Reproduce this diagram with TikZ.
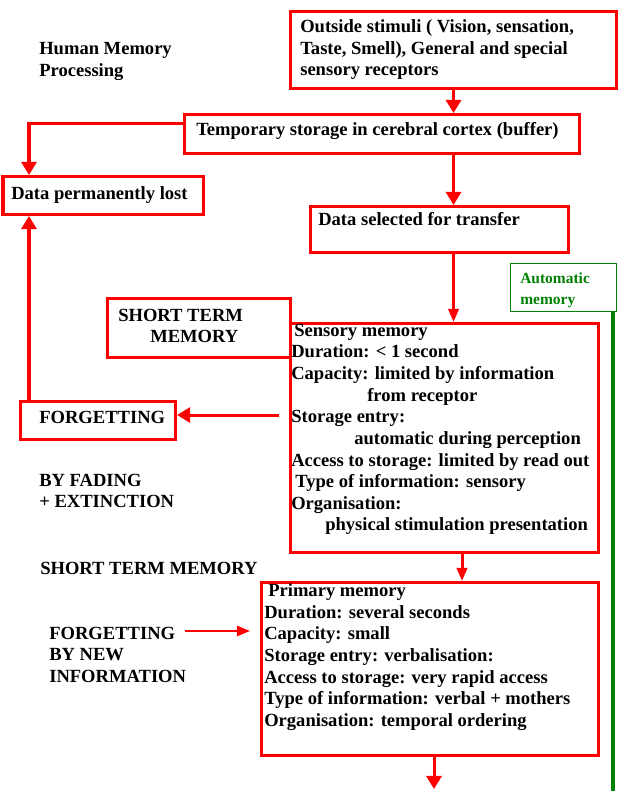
\documentclass[tikz,border=0pt]{standalone}
\usepackage{fontspec}
\setmainfont{Liberation Serif}
\usepackage{xcolor}
\usetikzlibrary{arrows.meta}
\definecolor{MemRed}{RGB}{255,0,0}
\definecolor{MemGreen}{RGB}{0,128,0}

\begin{document}
\begin{tikzpicture}[x=0.025cm, y=-0.025cm,
    redbox/.style={draw=MemRed, line width=0.075cm, rectangle, anchor=north west, inner sep=0pt},
    txt/.style={anchor=north west, inner sep=0pt, align=left, font=\bfseries\fontsize{13.2}{15.4}\selectfont},
    arr/.style={draw=MemRed, line width=0.075cm, -{Triangle[length=0.33cm, width=0.38cm]}},
    thinarr/.style={arr, -{Triangle[length=0.33cm, width=0.26cm]}}]
    \path[fill=white] (0,0) rectangle (642,791);
    \useasboundingbox (0,0) rectangle (642,791);

    \node (HumanText) [txt] at (39,42.5) {Human Memory\\Processing};

    \node (Stimuli) [redbox, minimum width=8.15cm, minimum height=1.925cm] at (289,10) {};
    \node (StimuliText) [txt] at (300,19.5) {Outside stimuli ( Vision, sensation,\\Taste, Smell), General and special\\sensory receptors};
    \node (Temp) [redbox, minimum width=9.875cm, minimum height=0.975cm] at (183,113) {};
    \node (TempText) [txt] at (196,122.5) {Temporary storage in cerebral cortex (buffer)};
    \node (Lost) [redbox, minimum width=5.0cm, minimum height=0.95cm] at (1.5,175) {};
    \node (LostText) [txt] at (11,186.5) {Data permanently lost};
    \node (Selected) [redbox, minimum width=6.45cm, minimum height=1.15cm] at (309,205) {};
    \node (SelectedText) [txt] at (318,212.5) {Data selected for transfer};

    \node (Auto) [draw=MemGreen, line width=0.6pt, anchor=north west, minimum width=2.65cm, minimum height=1.2cm] at (510,263) {};
    \node (AutoText) [txt, text=MemGreen, font=\bfseries\fontsize{11}{15}\selectfont] at (520,272) {Automatic\\memory};

    \node (STM) [redbox, minimum width=4.575cm, minimum height=1.475cm] at (106,297) {};
    \node (STMText) [txt] at (118,308.5) {SHORT TERM\\\hspace*{0.8cm}MEMORY};
    \node (Sensory) [redbox, minimum width=7.7cm, minimum height=5.725cm] at (289,322) {};
    \node (SensoryText) [txt] at (291,323.5) {\hspace*{0.075cm}Sensory memory\\
        Duration: \textless{} 1 second\\
        Capacity: limited by information\\
        \hspace*{1.9cm}from receptor\\
        Storage entry:\\
        \hspace*{1.575cm}automatic during perception\\
        Access to storage: limited by read out\\
        \hspace*{0.1cm}Type of information: sensory\\
        Organisation:\\
        \hspace*{0.85cm}physical stimulation presentation};

    \node (Forget) [redbox, minimum width=3.875cm, minimum height=0.95cm] at (19,400) {};
    \node (ForgetText) [txt] at (39,410.5) {FORGETTING};
    \node (FadingText) [txt] at (39,473.5) {BY FADING\\+ EXTINCTION};
    \node (STMLabel) [txt] at (40,561.5) {SHORT TERM MEMORY};
    \node (NewInfoText) [txt] at (49,626.5) {FORGETTING\\BY NEW\\INFORMATION};

    \node (Primary) [redbox, minimum width=8.425cm, minimum height=4.325cm] at (260,581) {};
    \node (PrimaryText) [txt] at (264,583.5) {\hspace*{0.1cm}Primary memory\\
        Duration: several seconds\\
        Capacity: small\\
        Storage entry: verbalisation:\\
        Access to storage: very rapid access\\
        Type of information: verbal + mothers\\
        Organisation: temporal ordering};

    % free ends
    \coordinate (LeftRail) at (29,0);
    \coordinate (SenseOut) at (462,0);
    \coordinate (PrimaryEnd) at (434,789);
    \coordinate (ForgetStart) at (279,415);
    \coordinate (NewInfoStart) at (185,631);
    \coordinate (NewInfoEnd) at (250,631);
    \coordinate (AutoEnd) at (613,791);

    \draw[arr] (Stimuli.south) -- (Stimuli.south |- Temp.north);
    \draw[arr] (Temp.south -| Stimuli.south) -- (Selected.north -| Stimuli.south);
    \draw[thinarr] (Selected.south -| Stimuli.south) -- (Sensory.north -| Stimuli.south);
    \draw[thinarr] (Sensory.south -| SenseOut) -- (Primary.north -| SenseOut);
    \draw[arr] (Primary.south -| PrimaryEnd) -- (PrimaryEnd);
    \draw[arr] ([yshift=0.26cm]Temp.west) -| (Lost.north -| LeftRail);
    \draw[arr] (Forget.north -| LeftRail) -- (Lost.south -| LeftRail);
    \draw[arr] (ForgetStart) -- (Forget.east |- ForgetStart);
    \draw[thinarr, line width=0.05cm] (NewInfoStart) -- (NewInfoEnd);
    \draw[MemGreen, line width=0.1cm] (AutoEnd |- Auto.south) -- (AutoEnd);
\end{tikzpicture}
\end{document}
